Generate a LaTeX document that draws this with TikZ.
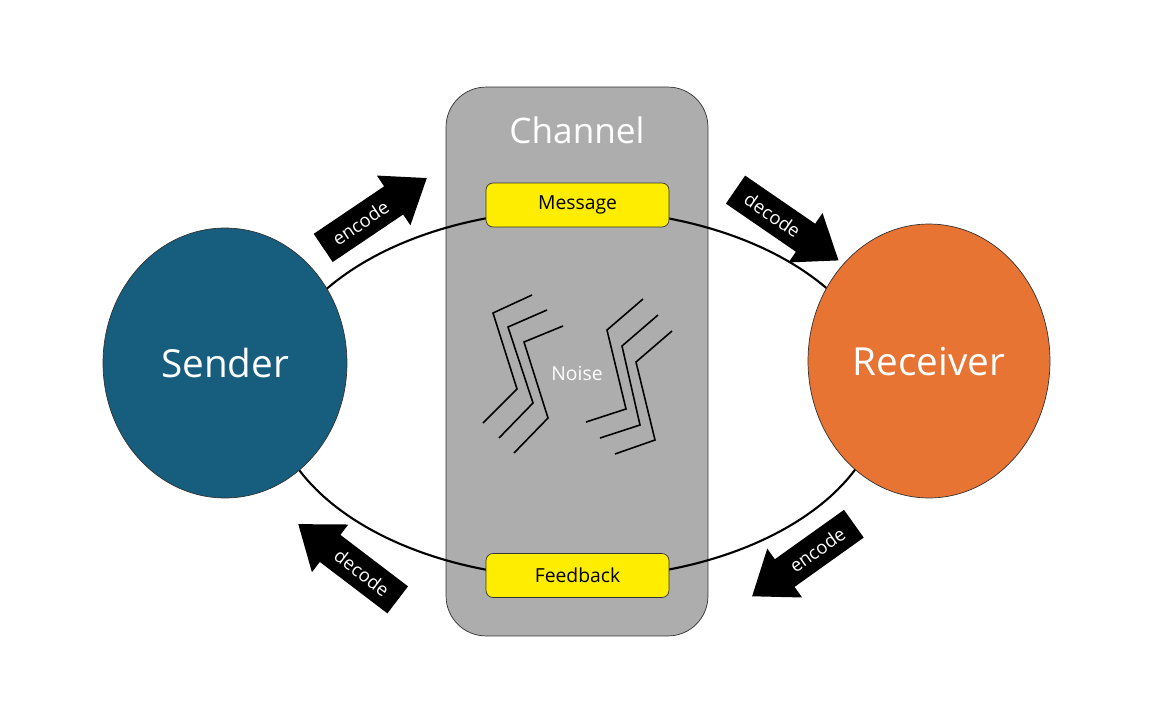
\documentclass[tikz,border=0pt]{standalone}
\usepackage{fontspec}
\setmainfont{Open Sans}
\usetikzlibrary{shapes.geometric}
\definecolor{sendc}{HTML}{175E7E}
\definecolor{recc}{HTML}{E87434}
\definecolor{chan}{HTML}{ADADAD}
\definecolor{yel}{HTML}{FFED00}
\newcommand{\blkarrow}[5]{%
  \begin{scope}[shift={(#2)},x=1cm,y=1cm,rotate=#3]
    \fill[black] (-1.25,-0.34) -- (0.45,-0.34) -- (0.45,-0.6) -- (1.25,0) -- (0.45,0.6) -- (0.45,0.34) -- (-1.25,0.34) -- cycle;
    \coordinate (#1) at (-0.35,0);
  \end{scope}
  \node[alab,rotate=#4] at (#1) {#5};}
\begin{document}
\begin{tikzpicture}[x=0.02cm,y=-0.02cm,
  box/.style={draw=black!80,fill=yel,rounded corners=4pt,minimum width=3.66cm,minimum height=0.88cm,font=\fontsize{11}{13}\selectfont},
  alab/.style={text=white,font=\fontsize{10.5}{12}\selectfont},
  nz/.style={line width=0.9pt}]
\useasboundingbox (0,0) rectangle (1154,724);
\node[draw=black!80,fill=chan,rounded corners=0.8cm,minimum width=5.24cm,minimum height=10.98cm] (ch) at (577,361.5) {};
\node[text=white,font=\fontsize{20}{24}\selectfont] (cht) at (577,130) {Channel};
\draw[line width=1.2pt] (577,394) ellipse [x radius=305, y radius=184];
\node[box] (msg) at (577.5,205) {Message};
\node[box] (fb) at (577.5,575.5) {Feedback};
\node[ellipse,draw=black!80,fill=sendc,minimum width=4.88cm,minimum height=5.4cm,text=white,font=\fontsize{22}{26}\selectfont] (s) at (225,363) {Sender};
\node[ellipse,draw=black!80,fill=recc,minimum width=4.84cm,minimum height=5.48cm,text=white,font=\fontsize{22}{26}\selectfont] (r) at (929,361) {Receiver};
\node[text=white,font=\fontsize{11}{13}\selectfont] (nt) at (577,373) {Noise};
\draw[nz] (532,295)--(493,313)--(517,389)--(483,423);
\draw[nz] (547,310)--(508,327)--(533,403)--(499,438);
\draw[nz] (563,326)--(524,342)--(548,418)--(514,453);
\draw[nz] (643,299)--(607,330)--(626,409)--(586,422);
\draw[nz] (658,315)--(622,346)--(640,425)--(600,438);
\draw[nz] (672,331)--(636,362)--(655,440)--(615,454);
\blkarrow{a1}{375,213}{34}{34}{encode}
\blkarrow{a2}{787,225}{-34.5}{-34.5}{decode}
\blkarrow{a3}{348,562}{142.7}{-37.3}{decode}
\blkarrow{a4}{803,560}{215.5}{35.5}{encode}
\end{tikzpicture}
\end{document}
